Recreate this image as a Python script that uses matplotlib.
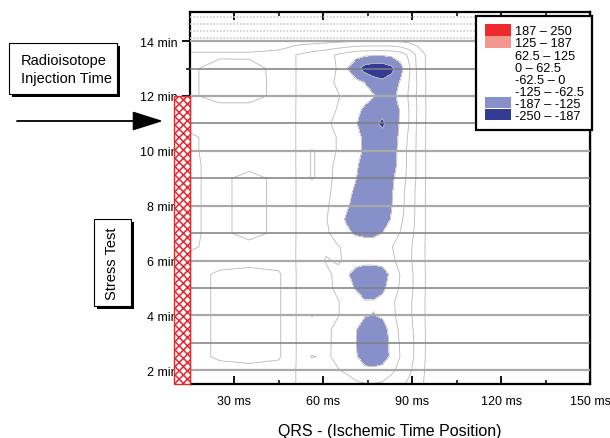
import matplotlib
matplotlib.use('Agg')
import matplotlib.pyplot as plt
import matplotlib.transforms as mtransforms
from matplotlib.patches import Patch, Rectangle

plt.rcParams['font.family'] = ['Liberation Sans', 'DejaVu Sans']
plt.rcParams['hatch.linewidth'] = 1.1

# QRS position (ms) and time (min) of the grid
qrs_ms = [15, 25, 35, 45, 51, 56, 61, 65, 68, 71, 74, 77, 80, 83, 86, 89, 92, 96, 105, 120, 150]
time_min = [1.5, 2.0, 2.5, 3.0, 3.5, 4.0, 4.5, 5.0, 5.5, 6.0, 6.5, 7.0, 7.5, 8.0,
            8.5, 9.0, 9.5, 10.0, 10.5, 11.0, 11.5, 12.0, 12.5, 13.0, 13.5, 14.0, 14.5, 15.0]

# ST value, one row per time step (bottom to top)
st_values = [
    [45, 45, 45, 40, -2, -25, -45, -40, -45, -55, -60, -60, -55, -35, -10, 10, 40, 90, 100, 100, 100],
    [45, 45, 45, 40, -2, -25, -50, -60, -70, -85, -105, -110, -100, -75, -45, -10, 30, 90, 100, 100, 100],
    [45, 70, 80, 70, -2, -66, -55, -75, -100, -118, -165, -170, -160, -112, -60, -20, 20, 90, 100, 100, 100],
    [45, 70, 80, 70, -2, -25, -50, -80, -110, -123, -170, -172, -160, -110, -55, -20, 20, 90, 100, 100, 100],
    [45, 70, 80, 70, -2, -25, -50, -80, -105, -120, -165, -170, -155, -100, -50, -15, 20, 90, 100, 100, 100],
    [45, 70, 80, 70, -2, -66, -50, -60, -85, -110, -120, -127, -115, -80, -40, -10, 25, 90, 100, 100, 100],
    [45, 70, 80, 70, -2, -25, -48, -60, -80, -100, -120, -120, -105, -75, -40, -10, 25, 90, 100, 100, 100],
    [45, 70, 80, 70, -2, -25, -48, -75, -105, -130, -160, -160, -140, -95, -55, -15, 20, 90, 100, 100, 100],
    [45, 70, 80, 70, -2, -25, -48, -80, -115, -160, -175, -175, -165, -105, -60, -15, 20, 90, 100, 100, 100],
    [45, 45, 45, 40, -2, -25, -68, -55, -75, -90, -100, -100, -92, -75, -45, -10, 25, 90, 100, 100, 100],
    [70, 45, 45, 40, -2, -25, -50, -60, -70, -80, -82, -82, -78, -65, -40, -10, 25, 90, 100, 100, 100],
    [70, 50, 80, 50, -2, -25, -55, -85, -112, -135, -145, -145, -124, -95, -60, -20, 20, 90, 100, 100, 100],
    [70, 50, 80, 50, -2, -25, -60, -100, -135, -160, -170, -170, -160, -120, -75, -30, 20, 90, 100, 100, 100],
    [70, 50, 80, 50, -2, -25, -55, -90, -118, -145, -168, -172, -165, -128, -82, -35, 20, 90, 100, 100, 100],
    [70, 50, 80, 50, -2, -25, -52, -80, -110, -135, -165, -172, -170, -132, -85, -35, 20, 90, 100, 100, 100],
    [70, 50, 80, 50, -2, -66, -50, -75, -100, -123, -160, -172, -172, -140, -90, -45, 15, 90, 100, 100, 100],
    [70, 50, 45, 40, -2, -66, -50, -72, -95, -115, -150, -170, -172, -160, -100, -45, 15, 90, 100, 100, 100],
    [70, 45, 45, 40, -2, -66, -50, -65, -85, -105, -135, -168, -175, -165, -100, -45, 15, 90, 100, 100, 100],
    [70, 45, 45, 40, -2, -25, -50, -65, -90, -110, -135, -170, -175, -165, -110, -50, 15, 90, 100, 100, 100],
    [45, 45, 45, 40, -2, -25, -55, -75, -100, -120, -160, -180, -195, -165, -118, -60, 15, 90, 100, 100, 100],
    [45, 45, 45, 40, -2, -25, -50, -65, -90, -110, -135, -170, -175, -165, -120, -60, 10, 90, 100, 100, 100],
    [55, 80, 80, 50, -2, -25, -45, -60, -75, -90, -105, -120, -150, -150, -100, -55, 15, 90, 100, 100, 100],
    [55, 80, 80, 50, -2, -25, -50, -70, -90, -110, -127, -160, -175, -160, -120, -60, 10, 90, 100, 100, 100],
    [55, 80, 78, 50, -2, -25, -50, -65, -125, -170, -215, -230, -230, -205, -150, -70, 20, 90, 100, 100, 100],
    [55, 55, 55, 45, -2, -25, -45, -70, -90, -105, -115, -118, -118, -112, -95, -50, 20, 90, 100, 100, 100],
    [95, 95, 95, 95, 90, 85, 80, 75, 70, 65, 65, 65, 65, 65, 70, 80, 90, 100, 100, 100, 100],
    [100] * 21,
    [100] * 21,
]

levels = [-250, -187.5, -125, -62.5, 0, 62.5, 125, 187.5, 250]
fill_colors = ['#333b94', '#8890c9', 'white', 'white', 'white', 'white', '#f3978f', '#ee2a2e']
legend_labels = ['187 – 250', '125 – 187', '62.5 – 125', '0 – 62.5',
                 '-62.5 – 0', '-125 – -62.5', '-187 – -125', '-250 – -187']

minute_lines = [2, 3, 4, 5, 6, 7, 8, 9, 10, 11, 12, 13, 14]
top_lines = [14.125, 14.375, 14.625, 14.875]
x_ticks = [30, 60, 90, 120, 150]
x_minor = [45, 75, 105, 135]
y_ticks = [2, 4, 6, 8, 10, 12, 14]
y_minor = [3, 5, 7, 9, 11, 13]
stress_start, stress_end = 1.5, 12.0

W, H = 610, 439
fig = plt.figure(figsize=(W / 100, H / 100), dpi=100)
ax = fig.add_axes([190 / W, 1 - 385 / H, 400 / W, (385 - 13.3) / H])

ax.contourf(qrs_ms, time_min, st_values, levels=levels, colors=fill_colors)
ax.contour(qrs_ms, time_min, st_values, levels=levels[1:-1], colors='#b8b8b8',
           linewidths=0.6, linestyles='solid')

for m in minute_lines:
    if m % 2 == 0:
        ax.axhline(m, color='#a9a9a9', lw=1.6, zorder=3)
    else:
        ax.axhline(m, color='#7f7f7f', lw=1.1, zorder=3)
for m in top_lines:
    ax.axhline(m, color='#cccccc', lw=1.2, ls=(0, (1, 1)), zorder=3)

ax.set_xlim(15, 150)
ax.set_ylim(1.5, 15.05)

ax.set_xticks(x_ticks, [f'{t} ms' for t in x_ticks])
ax.set_xticks(x_minor, minor=True)
ax.set_yticks(y_ticks, [f'{t} min' for t in y_ticks])
ax.set_yticks(y_minor, minor=True)
ax.tick_params(axis='x', which='both', direction='in', top=True, labelsize=9, pad=8)
ax.tick_params(axis='x', which='major', length=6, width=1.3)
ax.tick_params(axis='x', which='minor', length=3, width=1.1)
ax.tick_params(axis='y', which='both', direction='out', right=False, labelsize=9, pad=3)
ax.tick_params(axis='y', which='major', length=6, width=1.3)
ax.tick_params(axis='y', which='minor', length=3, width=1.1)
for s in ax.spines.values():
    s.set_linewidth(1.6)

ax_r = ax.secondary_yaxis('right')
ax_r.set_yticks(y_ticks)
ax_r.set_yticks(y_minor, minor=True)
ax_r.tick_params(which='both', direction='in', labelright=False)
ax_r.tick_params(which='major', length=6, width=1.3)
ax_r.tick_params(which='minor', length=3, width=1.1)
ax_r.spines['right'].set_linewidth(1.6)

# hatched stress test bar left of the axis
trans = mtransforms.blended_transform_factory(ax.transAxes, ax.transData)
ax.add_patch(Rectangle((-0.04, stress_start), 0.04, stress_end - stress_start,
                       transform=trans, clip_on=False, facecolor='white',
                       edgecolor='#e8282e', hatch='xxxx', lw=1, zorder=5))

handles = [Patch(facecolor=c if c != 'white' else 'none', edgecolor='none')
           for c in fill_colors[::-1]]
leg = ax.legend(handles, legend_labels, loc='upper right',
                bbox_to_anchor=(592 / W, 1 - 17 / H), bbox_transform=fig.transFigure,
                borderaxespad=0, fancybox=False, edgecolor='black', framealpha=1,
                fontsize=9.2, handlelength=2.1, handleheight=1.0, handletextpad=0.25,
                labelspacing=-0.08, borderpad=0.65)
leg.get_frame().set_linewidth(1.6)
leg.set_zorder(10)


def box(x0, y0, x1, y1):
    fig.add_artist(Rectangle(((x0 + 3) / W, 1 - (y1 + 3) / H), (x1 - x0) / W, (y1 - y0) / H,
                             transform=fig.transFigure, facecolor='black', edgecolor='none'))
    fig.add_artist(Rectangle((x0 / W, 1 - y1 / H), (x1 - x0) / W, (y1 - y0) / H,
                             transform=fig.transFigure, facecolor='white', edgecolor='black', lw=0.8))


box(9, 44, 117, 95)
fig.text(21 / W, 1 - 70 / H, 'Radioisotope\nInjection Time', fontsize=10.5,
         ha='left', va='center', linespacing=1.3)
box(94, 220, 131, 307)
fig.text(112.5 / W, 1 - 263.5 / H, 'Stress Test', fontsize=10.5, rotation=90,
         ha='center', va='center')

ax.annotate('', xy=(163, H - 122), xytext=(17, H - 122), xycoords='figure pixels',
            textcoords='figure pixels',
            arrowprops=dict(arrowstyle='-|>,head_length=1.9,head_width=0.6',
                            color='black', lw=1.3, shrinkA=0, shrinkB=0))

fig.text(390 / W, 1 - 432 / H, 'QRS - (Ischemic Time Position)', fontsize=11.5,
         ha='center', va='center')

fig.savefig('out.png', dpi=100)
